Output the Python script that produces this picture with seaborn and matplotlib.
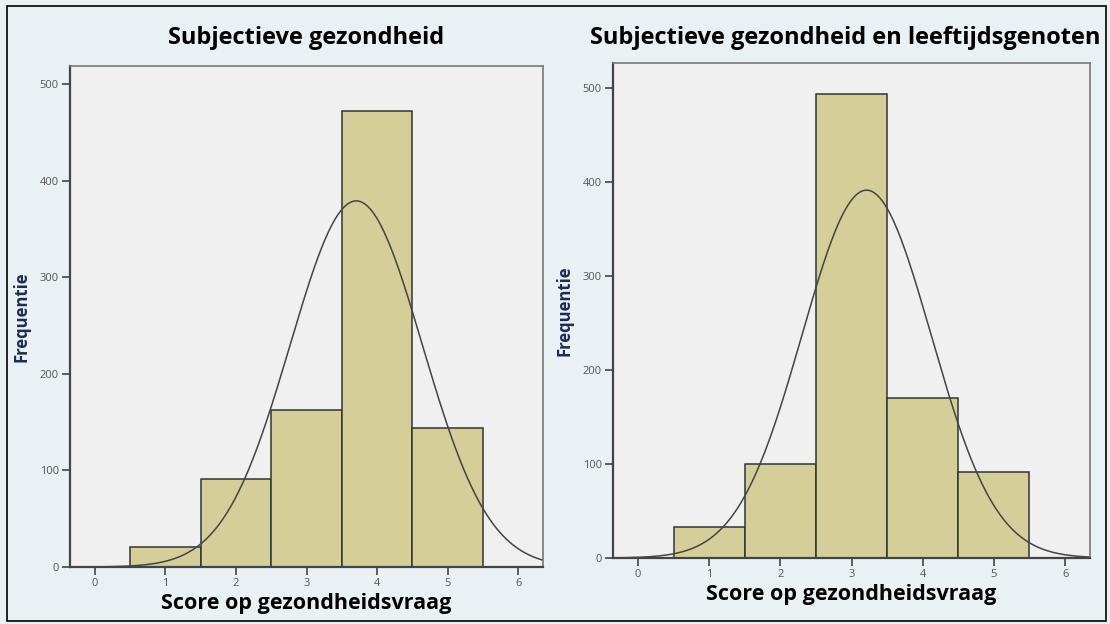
import numpy as np
import pandas as pd
import seaborn as sns
import matplotlib.pyplot as plt
from matplotlib.patches import Rectangle

# Data
scores = [1, 2, 3, 4, 5]
counts_links = [21, 91, 162, 472, 144]
counts_rechts = [33, 100, 494, 170, 92]
titels = ["Subjectieve gezondheid", "Subjectieve gezondheid en leeftijdsgenoten"]
x_ticks = [0, 1, 2, 3, 4, 5, 6]
y_ticks = [0, 100, 200, 300, 400, 500]

sns.set_style("white")
plt.rcParams['font.family'] = ['Open Sans', 'DejaVu Sans']

fig = plt.figure(figsize=(11.1, 6.24), dpi=100)
fig.patch.set_facecolor("#e9f1f4")
fig.patches.append(Rectangle((0.006, 0.005), 0.99, 0.985, transform=fig.transFigure,
                             fill=False, edgecolor="black", linewidth=1.2))

ax1 = fig.add_axes([70 / 1110, 1 - 567 / 624, 473 / 1110, 501 / 624])
ax2 = fig.add_axes([613 / 1110, 1 - 558 / 624, 477 / 1110, 495 / 624])

# bin-randen als lijst (seaborn vergelijkt bins met "auto")
edges = [0.5, 1.5, 2.5, 3.5, 4.5, 5.5]

for ax, counts, titel, ymax, tpad, tx in [(ax1, counts_links, titels[0], 518.6, 16, 0.5),
                                           (ax2, counts_rechts, titels[1], 526.6, 14, 0.486)]:
    df = pd.DataFrame({"score": scores, "n": counts})
    sns.histplot(data=df, x="score", weights="n", bins=edges, ax=ax, color="#d4cf98",
                 edgecolor="#333333", linewidth=1.1, alpha=1)

    # normale curve op basis van de data
    c = np.array(counts)
    s = np.array(scores)
    n = c.sum()
    gem = (c * s).sum() / n
    sd = np.sqrt((c * (s - gem) ** 2).sum() / n)
    xs = np.linspace(-0.35, 6.35, 400)
    ys = n / (sd * np.sqrt(2 * np.pi)) * np.exp(-0.5 * ((xs - gem) / sd) ** 2)
    ax.plot(xs, ys, color="#444444", linewidth=1.1)

    ax.set_facecolor("#f0f0f0")
    ax.set_xlim(-0.35, 6.35)
    ax.set_ylim(0, ymax)
    ax.set_xticks(x_ticks)
    ax.set_yticks(y_ticks)
    ax.tick_params(axis="both", direction="out", length=6, width=1.2, color="#444444",
                   labelsize=8, labelcolor="#555555", left=True, bottom=True, pad=2)
    for side in ["left", "bottom"]:
        ax.spines[side].set_color("#444444")
        ax.spines[side].set_linewidth(1.6)
    for side in ["top", "right"]:
        ax.spines[side].set_color("#777777")
        ax.spines[side].set_linewidth(1.2)

    ax.set_title(titel, fontsize=17, fontweight="bold", color="black", pad=tpad, x=tx)
    ax.set_xlabel("Score op gezondheidsvraag", fontsize=15.5, fontweight="bold",
                  color="black", labelpad=3)
    ax.set_ylabel("Frequentie", fontsize=12, fontweight="bold", color="#1f2a55",
                  labelpad=7)

plt.savefig("out.png", dpi=100, facecolor=fig.get_facecolor())
